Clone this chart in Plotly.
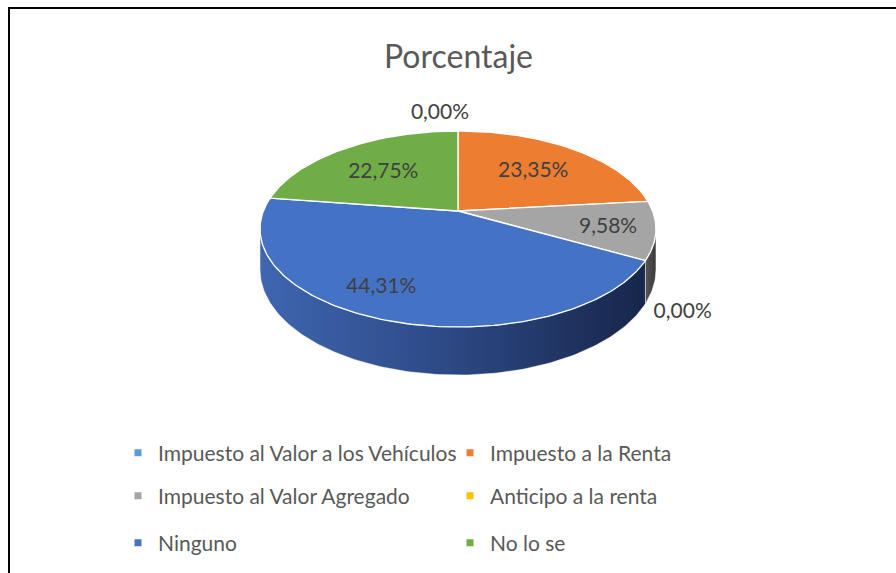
import numpy as np
import plotly.graph_objects as go

# ---------------- data ----------------
categories = [
    "Impuesto al Valor a los Vehículos",
    "Impuesto a la Renta",
    "Impuesto al Valor Agregado",
    "Anticipo a la renta",
    "Ninguno",
    "No lo se",
]
percentages = [0.00, 23.35, 9.58, 0.00, 44.31, 22.75]
chart_title = "Porcentaje"

# ---------------- style ----------------
top_colors = ["#5B9BD5", "#ED7D31", "#A5A5A5", "#FFC000", "#4472C4", "#70AD47"]
side_scales = {
    0: [[0, "#3f77a8"], [1, "#24425e"]],
    1: [[0, "#b85f24"], [1, "#6e3813"]],
    2: [[0, "#555555"], [1, "#3a3a3a"]],
    3: [[0, "#c79600"], [1, "#7a5b00"]],
    4: [[0, "#3f66b0"], [0.5, "#2c4884"], [1, "#17264a"]],
    5: [[0, "#56873a"], [1, "#2f4a20"]],
}
FONT = "Lato"
TEXT_DARK = "#404040"
TEXT_GRAY = "#595959"
W, H_FIG = 896, 573

# perspective projection of the 3D pie (screen pixels)
CX, CY = 458.0, 211.0
K, KS, P = 194.6, 94.7, 0.1837
DEPTH = 39.2

# label placement (radial factor + pixel nudge)
LABEL_R = [1.2, 0.6, 0.78, 1.15, 0.7, 0.6]
LABEL_NUDGE = [(-18, -4), (3, 0), (-3, 2), (6, 44), (-28, 5), (-4, 1)]


def proj(theta_deg, r=1.0, drop=0.0):
    t = np.radians(theta_deg)
    u = r * np.sin(t)
    v = r * np.cos(t)
    den = 1 + P * v
    x = CX + K * u / den
    y = CY - KS * v / den + drop / (1 + P * np.cos(t))
    return x, y


def arc(a, b, drop=0.0):
    n = max(2, int(abs(b - a)) + 2)
    th = np.linspace(a, b, n)
    return proj(th, 1.0, drop)


fig = go.Figure()

cum = np.concatenate([[0], np.cumsum(percentages)])
starts = 360 * cum[:-1] / 100
ends = 360 * cum[1:] / 100

TR = np.degrees(np.arccos(-P))
TL = 360 - TR

# side walls (front only)
for i in range(len(categories)):
    a, b = max(starts[i], TR), min(ends[i], TL)
    if b - a <= 0.01:
        continue
    xt, yt = arc(a, b)
    xb, yb = arc(b, a, DEPTH)
    xs = np.concatenate([xt, xb, [xt[0]]])
    ys = np.concatenate([yt, yb, [yt[0]]])
    fig.add_trace(go.Scatter(
        x=xs, y=ys, mode="lines", fill="toself",
        fillgradient=dict(type="horizontal", colorscale=side_scales[i]),
        line=dict(color="rgba(255,255,255,0.6)", width=0.8),
        hoverinfo="skip", showlegend=False,
    ))

# top faces
for i in range(len(categories)):
    if ends[i] - starts[i] <= 0.01:
        continue
    xa, ya = arc(starts[i], ends[i])
    xs = np.concatenate([[CX], xa, [CX]])
    ys = np.concatenate([[CY], ya, [CY]])
    fig.add_trace(go.Scatter(
        x=xs, y=ys, mode="lines", fill="toself", fillcolor=top_colors[i],
        line=dict(color="white", width=1.3),
        hoverinfo="skip", showlegend=False,
    ))

# data labels
lx, ly, lt = [], [], []
for i in range(len(categories)):
    mid = (starts[i] + ends[i]) / 2
    x, y = proj(mid, LABEL_R[i])
    lx.append(float(x) + LABEL_NUDGE[i][0])
    ly.append(float(y) + LABEL_NUDGE[i][1])
    lt.append(f"{percentages[i]:.2f}".replace(".", ",") + "%")
fig.add_trace(go.Scatter(
    x=lx, y=ly, text=lt, mode="text",
    textfont=dict(family=FONT, size=21, color=TEXT_DARK),
    hoverinfo="skip", showlegend=False,
))

# legend entries (three rows of two)
legend_of = ["legend", "legend", "legend2", "legend2", "legend3", "legend3"]
for i, name in enumerate(categories):
    fig.add_trace(go.Scatter(
        x=[None], y=[None], mode="markers", name=name,
        marker=dict(symbol="square", size=7, color=top_colors[i]),
        legend=legend_of[i], showlegend=True,
    ))

row_y = [453, 496, 543]
legend_common = dict(
    orientation="h", entrywidth=287, entrywidthmode="pixels",
    x=118 / W, xanchor="left", yanchor="middle",
    font=dict(family=FONT, size=21, color=TEXT_GRAY),
    bgcolor="rgba(0,0,0,0)", itemclick=False, itemdoubleclick=False,
)
fig.update_layout(
    legend=dict(y=1 - row_y[0] / H_FIG, **legend_common),
    legend2=dict(y=1 - row_y[1] / H_FIG, **legend_common),
    legend3=dict(y=1 - row_y[2] / H_FIG, **legend_common),
)

fig.add_annotation(
    x=458, y=55, text=chart_title, showarrow=False,
    font=dict(family=FONT, size=32, color=TEXT_GRAY),
    xanchor="center", yanchor="middle",
)

# chart frame
fig.add_shape(type="rect", x0=9, y0=8, x1=905, y1=590,
              line=dict(color="black", width=2), layer="above")

fig.update_layout(
    width=W, height=H_FIG,
    margin=dict(l=0, r=0, t=0, b=0),
    paper_bgcolor="white", plot_bgcolor="white",
    xaxis=dict(range=[0, W], visible=False, fixedrange=True),
    yaxis=dict(range=[H_FIG, 0], visible=False, fixedrange=True),
    hovermode=False,
)

fig.write_html(
    "out.html",
    config={"displayModeBar": False, "staticPlot": True},
    post_script="document.body.style.margin='0';document.body.style.overflow='hidden';",
)
